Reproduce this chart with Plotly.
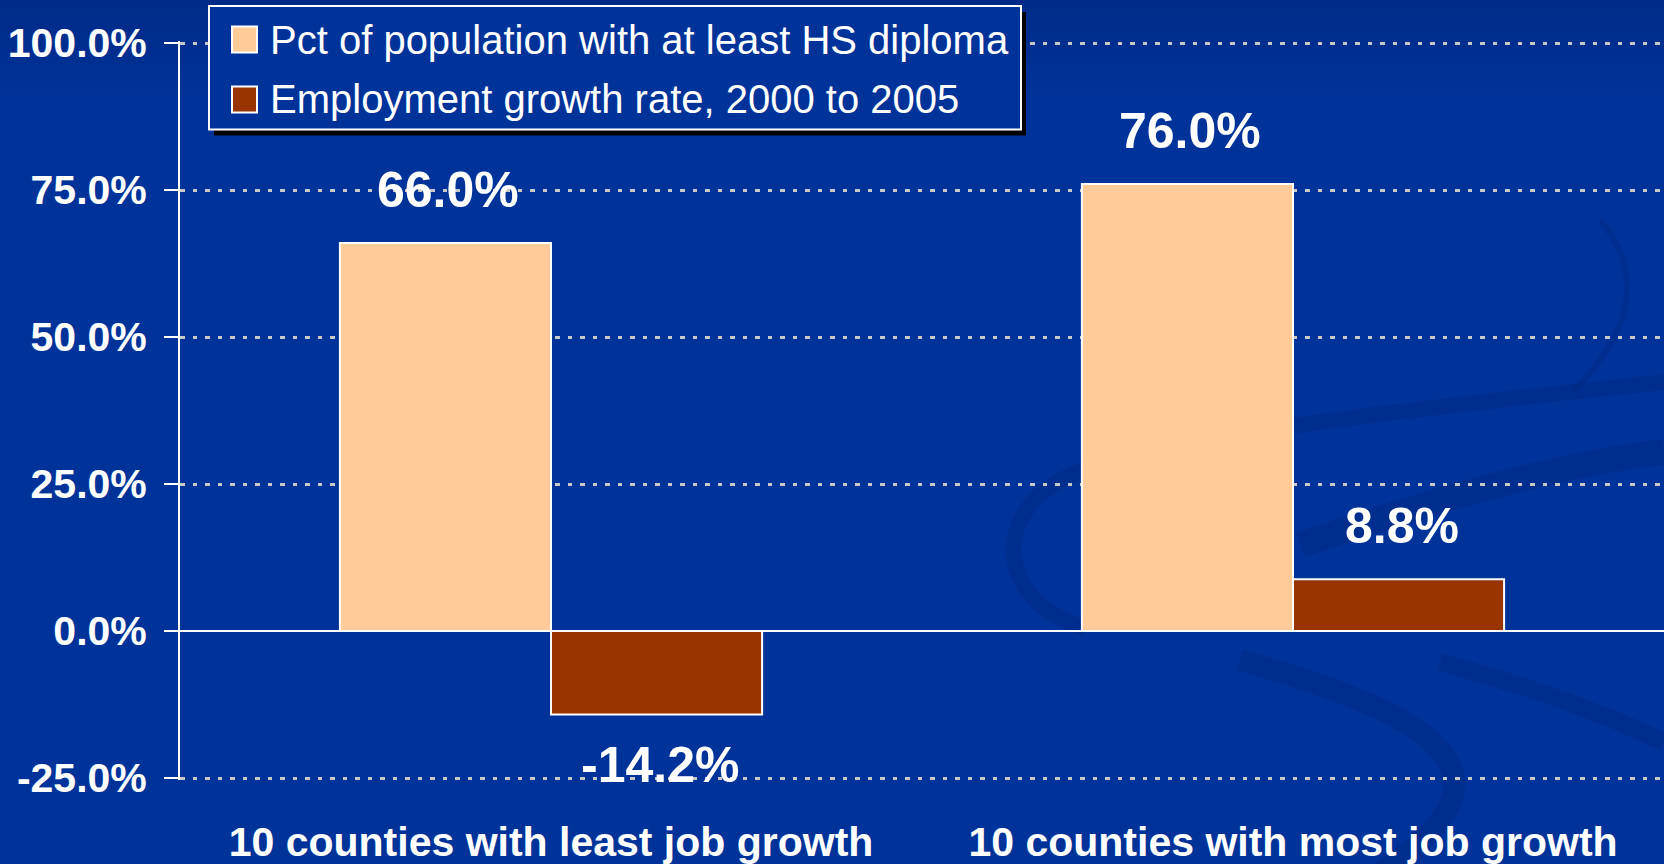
import plotly.graph_objects as go

# ---- data -------------------------------------------------------------
categories = ["10 counties with least job growth", "10 counties with most job growth"]
series_names = [
    "Pct of population with at least HS diploma",
    "Employment growth rate, 2000 to 2005",
]
hs_diploma_pct = [66.0, 76.0]
employment_growth_pct = [-14.2, 8.8]
y_tick_values = [-25, 0, 25, 50, 75, 100]
y_tick_labels = ["-25.0%", "0.0%", "25.0%", "50.0%", "75.0%", "100.0%"]

# ---- styling ----------------------------------------------------------
W, H = 1664, 864
# a small pad on the value range keeps the boundary gridlines visible
Y_PAD = 0.34
M_L, M_R, M_T, M_B = 180, 0, 41, 84
BG = "#003399"
SERIES_COLORS = ["#FFCC99", "#993300"]
BARGAP = 0.431
FONT = "Liberation Sans, Arial, sans-serif"

series_values = [hs_diploma_pct, employment_growth_pct]
xs = list(range(len(categories)))
bar_w = (1 - BARGAP) / len(series_values)


def px(x_pix):
    """Page pixel x -> paper coordinate."""
    return (x_pix - M_L) / (W - M_L - M_R)


def py(y_pix):
    """Page pixel y (from top) -> paper coordinate."""
    return (H - M_B - y_pix) / (H - M_T - M_B)


def curve_path(start, segments):
    """Cubic bezier path in paper coordinates from page-pixel points."""
    d = "M{:.5f},{:.5f}".format(px(start[0]), py(start[1]))
    for c1, c2, end in segments:
        d += " C{:.5f},{:.5f} {:.5f},{:.5f} {:.5f},{:.5f}".format(
            px(c1[0]), py(c1[1]), px(c2[0]), py(c2[1]), px(end[0]), py(end[1]))
    return d


fig = go.Figure()

for name, vals, color in zip(series_names, series_values, SERIES_COLORS):
    fig.add_trace(
        go.Bar(
            x=xs,
            y=vals,
            name=name,
            marker=dict(color=color, line=dict(color="white", width=2)),
            showlegend=False,
            hoverinfo="skip",
        )
    )

shapes = []
annotations = []

# darker band at the top of the slide background
n_bands = 12
for i in range(n_bands):
    shapes.append(
        dict(
            type="rect", xref="paper", yref="paper", layer="below",
            x0=px(0), x1=px(W), y0=py(i * 8), y1=py((i + 1) * 8),
            fillcolor="#001a66", opacity=0.32 * (1 - i / n_bands),
            line=dict(width=0),
        )
    )

# faint decorative swooshes of the slide template
swooshes = [
    ((1085, 628), [((990, 600), (990, 500), (1085, 470)),
                   ((1200, 430), (1450, 405), (1664, 382))], 16),
    ((1300, 545), [((1420, 505), (1550, 465), (1664, 452))], 26),
    ((1240, 660), [((1380, 700), (1470, 740), (1452, 800)),
                   ((1435, 840), (1385, 870), (1330, 905))], 22),
    ((1440, 662), [((1540, 690), (1600, 712), (1664, 742))], 18),
    ((1600, 220), [((1650, 280), (1625, 340), (1572, 392))], 6),
]
for start, segs, width in swooshes:
    shapes.append(
        dict(type="path", xref="paper", yref="paper", layer="below",
             path=curve_path(start, segs),
             line=dict(color="#00216f", width=width), opacity=0.22)
    )

# custom legend box with drop shadow
lg_x0, lg_x1, lg_y0, lg_y1 = 209, 1021, 6, 129.5
shapes.append(
    dict(type="rect", xref="paper", yref="paper", layer="above",
         x0=px(lg_x0 + 5), x1=px(lg_x1 + 5), y0=py(lg_y0 + 6), y1=py(lg_y1 + 6),
         fillcolor="black", line=dict(width=0))
)
shapes.append(
    dict(type="rect", xref="paper", yref="paper", layer="above",
         x0=px(lg_x0), x1=px(lg_x1), y0=py(lg_y0), y1=py(lg_y1),
         fillcolor=BG, line=dict(color="white", width=2))
)
row_centers = [39.5, 99.5]
for name, color, yc in zip(series_names, SERIES_COLORS, row_centers):
    shapes.append(
        dict(type="rect", xref="paper", yref="paper", layer="above",
             x0=px(232), x1=px(257), y0=py(yc - 13), y1=py(yc + 13),
             fillcolor=color, line=dict(color="white", width=2))
    )
    annotations.append(
        dict(xref="paper", yref="paper", x=px(268), y=py(yc), text=name,
             showarrow=False, xanchor="left", yanchor="middle",
             font=dict(family=FONT, size=40, color="white"))
    )

# value labels above / below each bar
for k, vals in enumerate(series_values):
    offset = (k - (len(series_values) - 1) / 2) * bar_w
    for i, v in zip(xs, vals):
        annotations.append(
            dict(x=i + offset, y=v, xref="x", yref="y",
                 text=f"{v:.1f}%", showarrow=False,
                 xanchor="center", yanchor="middle",
                 yshift=53 if v >= 0 else -50, xshift=3,
                 font=dict(family=FONT, size=50, color="white", weight="bold"))
        )

fig.update_layout(
    width=W, height=H,
    margin=dict(l=M_L, r=M_R, t=M_T, b=M_B, pad=0, autoexpand=False),
    paper_bgcolor=BG,
    plot_bgcolor="rgba(0,0,0,0)",
    barmode="group",
    bargap=BARGAP,
    bargroupgap=0,
    showlegend=False,
    shapes=shapes,
    annotations=annotations,
    font=dict(family=FONT, color="white"),
)

fig.update_xaxes(
    range=[-0.5, len(categories) - 0.5],
    tickvals=xs, ticktext=categories,
    showgrid=False, showline=False, zeroline=False, ticks="",
    ticklabelstandoff=34, automargin=False,
    tickfont=dict(family=FONT, size=41, color="white", weight="bold"),
)

fig.update_yaxes(
    range=[y_tick_values[0] - Y_PAD, y_tick_values[-1] + Y_PAD],
    tickvals=y_tick_values, ticktext=y_tick_labels,
    showline=True, linecolor="white", linewidth=2,
    ticks="outside", ticklen=14, tickwidth=2, tickcolor="white",
    ticklabelstandoff=9, automargin=False,
    showgrid=True, gridcolor="#C8C8C8", gridwidth=3, griddash="4.5px,8px",
    zeroline=True, zerolinecolor="white", zerolinewidth=2,
    tickfont=dict(family=FONT, size=41, color="white", weight="bold"),
)

fig.write_html("out.html")
